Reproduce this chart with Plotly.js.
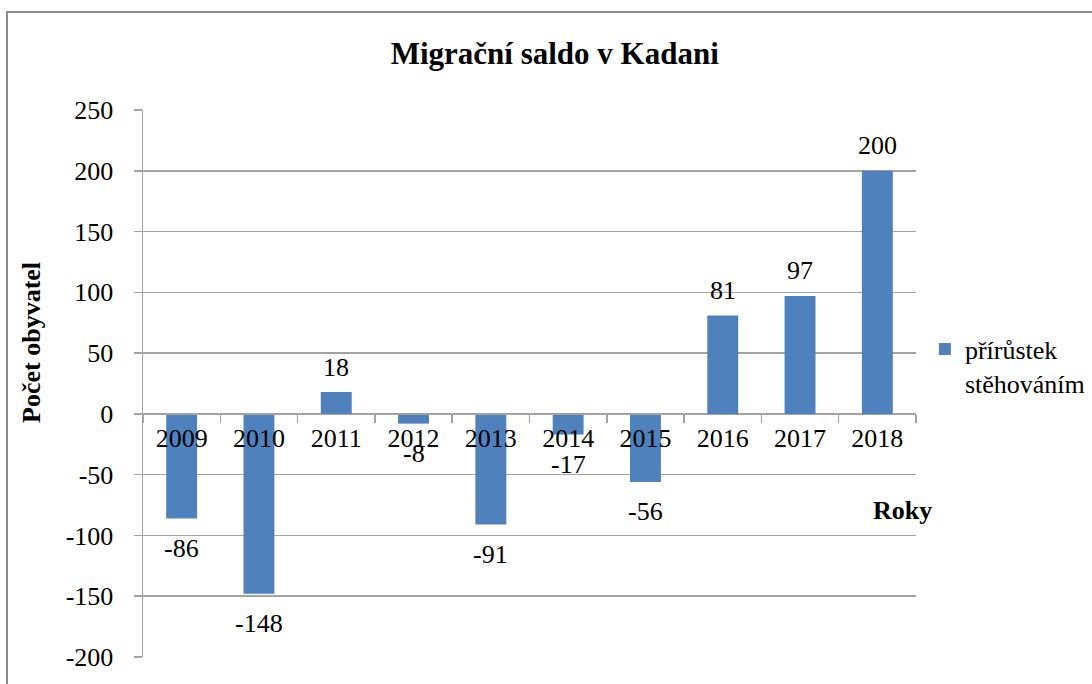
<!DOCTYPE html>
<html>
<head>
<meta charset="utf-8">
<script src="https://cdn.plot.ly/plotly-3.0.1.min.js"></script>
<style>
  html, body { margin: 0; padding: 0; background: #fff; }
  #wrap { position: relative; width: 1092px; height: 684px; overflow: hidden; }
  #chart { width: 1092px; height: 684px; }
  #frame { position: absolute; left: 6px; top: 11px; width: 1200px; height: 800px;
           border: 2px solid #8c8c8c; pointer-events: none; box-sizing: border-box; }
</style>
</head>
<body>
<div id="wrap">
  <div id="chart"></div>
  <div id="frame"></div>
</div>
<script>
const years = ['2009','2010','2011','2012','2013','2014','2015','2016','2017','2018'];
const saldo = [-86, -148, 18, -8, -91, -17, -56, 81, 97, 200];
const seriesName = 'přírůstek<br>stěhováním';
const yTicks = [-200, -150, -100, -50, 0, 50, 100, 150, 200, 250];

const FONT = "'Liberation Serif', 'Times New Roman', serif";
const GRID = '#a3a3a3';

const yMin = -200, yMax = 250;
const zeroFrac = (0 - yMin) / (yMax - yMin);

const labelAnns = years.map((yr, i) => ({
  x: i, y: saldo[i], xref: 'x', yref: 'y',
  text: String(saldo[i]), showarrow: false,
  yanchor: 'middle', xanchor: 'center',
  yshift: saldo[i] >= 0 ? 25 : -30,
  font: {family: FONT, size: 26, color: '#000'}
}));

const data = [{
  type: 'bar', x: years, y: saldo, name: seriesName,
  marker: {color: '#4f81bd'},
  hoverinfo: 'none'
}];

const layout = {
  width: 1092, height: 684,
  margin: {l: 143, r: 176, t: 110, b: 27, autoexpand: false},
  paper_bgcolor: '#fff', plot_bgcolor: '#fff',
  font: {family: FONT, size: 26, color: '#000'},
  bargap: 0.6,
  title: {text: '<b>Migrační saldo v Kadani</b>', x: 0.508, xanchor: 'center',
          y: 0.922, yanchor: 'middle',
          font: {family: FONT, size: 31, color: '#000'}},
  xaxis: {
    type: 'category', range: [-0.5, years.length - 0.5], autorange: false,
    anchor: 'free', position: zeroFrac,
    showline: true, linecolor: GRID, linewidth: 1.5,
    ticks: 'outside', tickson: 'boundaries', ticklen: 8, tickcolor: GRID, tickwidth: 1.5,
    showgrid: false, zeroline: false, tickangle: 0,
    tickfont: {family: FONT, size: 26, color: '#000'},
    ticklabelstandoff: 0
  },
  yaxis: {
    range: [yMin, yMax], autorange: false, tickvals: yTicks, ticktext: yTicks.map(String),
    showline: true, linecolor: GRID, linewidth: 1.5,
    ticks: 'outside', ticklen: 8, tickcolor: GRID, tickwidth: 1.5,
    showgrid: true, gridcolor: GRID, gridwidth: 1.5, zeroline: false,
    tickfont: {family: FONT, size: 26, color: '#000'},
    ticklabelstandoff: 15
  },
  showlegend: true,
  legend: {
    x: 1.0115, xanchor: 'left', y: 0.606, yanchor: 'top',
    valign: 'top', itemwidth: 30,
    font: {family: FONT, size: 26, color: '#000'},
    bgcolor: 'rgba(0,0,0,0)', borderwidth: 0
  },
  annotations: labelAnns.concat([
    {text: '<b>Počet obyvatel</b>', xref: 'paper', yref: 'paper',
     x: -0.1436, y: 0.576, textangle: -90, showarrow: false,
     xanchor: 'center', yanchor: 'middle',
     font: {family: FONT, size: 26, color: '#000'}},
    {text: '<b>Roky</b>', xref: 'paper', yref: 'paper',
     x: 0.983, y: 0.267, showarrow: false, xanchor: 'center', yanchor: 'middle',
     font: {family: FONT, size: 26, color: '#000'}}
  ])
};

Plotly.newPlot('chart', data, layout, {displayModeBar: false, staticPlot: true});
</script>
</body>
</html>
